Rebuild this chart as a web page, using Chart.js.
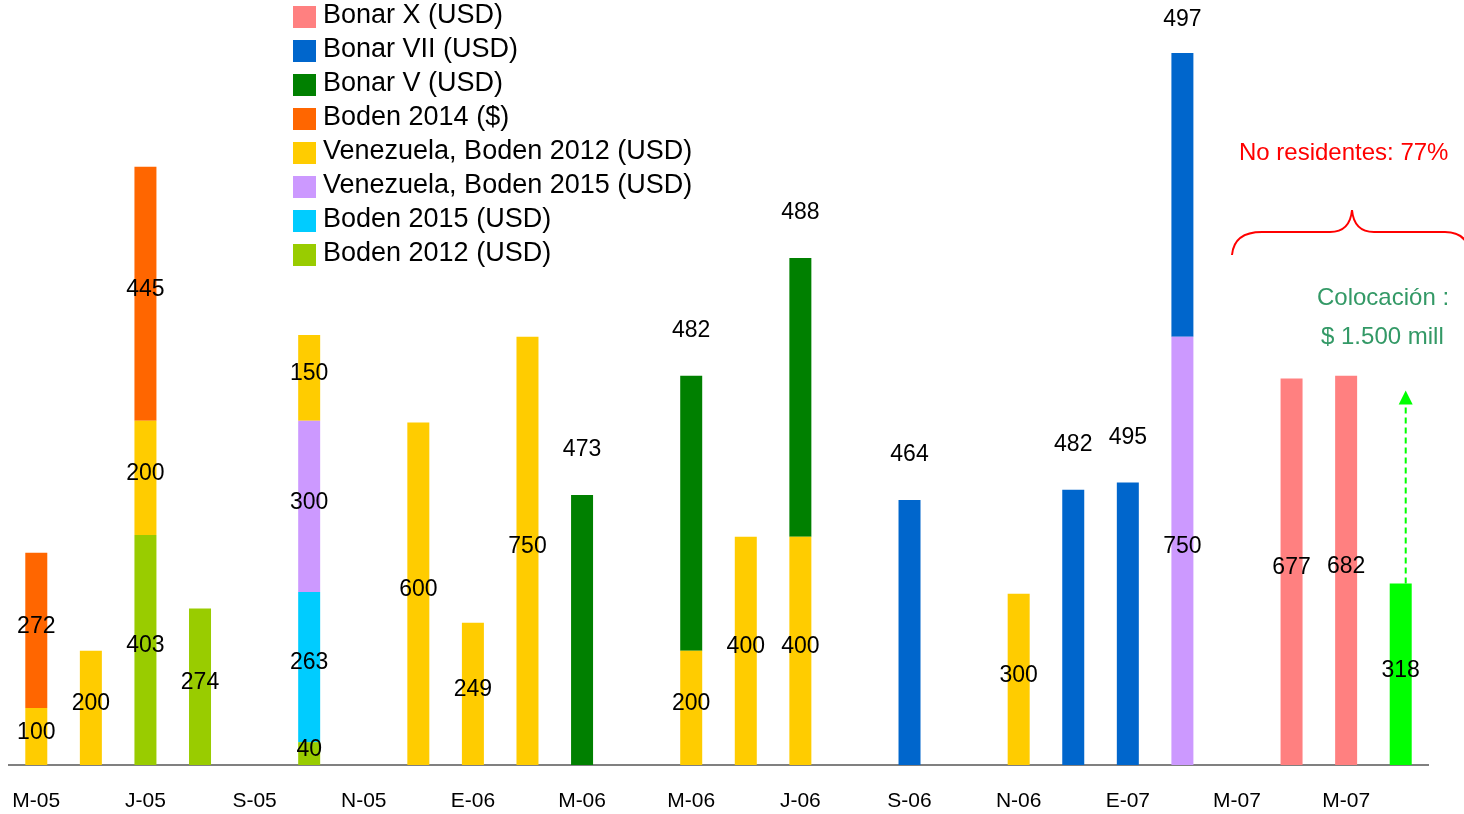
<!DOCTYPE html>
<html>
<head>
<meta charset="utf-8">
<script src="https://cdn.jsdelivr.net/npm/chart.js@4"></script>
<style>
  html, body { margin: 0; padding: 0; background: #fff; }
  #wrap { position: relative; width: 1464px; height: 814px; }
</style>
</head>
<body>
<div id="wrap"><canvas id="emisiones" width="1464" height="814"></canvas></div>
<script>
// ---- Data (one slot per month, May-05 .. Jun-07) ----
const meses = ['M-05','J-05','J-05','A-05','S-05','O-05','N-05','D-05',
               'E-06','F-06','M-06','A-06','M-06','J-06','J-06','A-06','S-06','O-06','N-06','D-06',
               'E-07','F-07','M-07','A-07','M-07','J-07'];

const boden2012     = [null,null,403,274,null,40,null,null,null,null,null,null,null,null,null,null,null,null,null,null,null,null,null,null,null,null];
const boden2015     = [null,null,null,null,null,263,null,null,null,null,null,null,null,null,null,null,null,null,null,null,null,null,null,null,null,null];
const venez2015     = [null,null,null,null,null,300,null,null,null,null,null,null,null,null,null,null,null,null,null,null,null,750,null,null,null,null];
const venez2012     = [100,200,200,null,null,150,null,600,249,750,null,null,200,400,400,null,null,null,300,null,null,null,null,null,null,null];
const boden2014     = [272,null,445,null,null,null,null,null,null,null,null,null,null,null,null,null,null,null,null,null,null,null,null,null,null,null];
const bonarV        = [null,null,null,null,null,null,null,null,null,null,473,null,482,null,488,null,null,null,null,null,null,null,null,null,null,null];
const bonarVII      = [null,null,null,null,null,null,null,null,null,null,null,null,null,null,null,null,464,null,null,482,495,497,null,null,null,null];
const bonarX        = [null,null,null,null,null,null,null,null,null,null,null,null,null,null,null,null,null,null,null,null,null,null,null,677,682,null];
const colocacion    = [null,null,null,null,null,null,null,null,null,null,null,null,null,null,null,null,null,null,null,null,null,null,null,null,null,318];

const FONT = '"Liberation Sans", Arial, sans-serif';

// bottom of the stack first
const series = [
  { label: 'Boden 2012 (USD)',            data: boden2012,  color: '#99CC00' },
  { label: 'Boden 2015 (USD)',            data: boden2015,  color: '#00CCFF' },
  { label: 'Venezuela, Boden 2015 (USD)', data: venez2015,  color: '#CC99FF' },
  { label: 'Venezuela, Boden 2012 (USD)', data: venez2012,  color: '#FFCC00' },
  { label: 'Boden 2014 ($)',              data: boden2014,  color: '#FF6600' },
  { label: 'Bonar V (USD)',               data: bonarV,     color: '#008000', top: true },
  { label: 'Bonar VII (USD)',             data: bonarVII,   color: '#0066CC', top: true },
  { label: 'Bonar X (USD)',               data: bonarX,     color: '#FF8080' },
  { label: 'Colocación',                  data: colocacion, color: '#00FF00', hideLegend: true }
];

// ---- value labels ----
const valueLabels = {
  id: 'valueLabels',
  afterDatasetsDraw(chart) {
    const ctx = chart.ctx;
    ctx.save();
    ctx.font = '23px ' + FONT;
    ctx.fillStyle = '#000';
    ctx.textAlign = 'center';
    ctx.textBaseline = 'middle';
    chart.data.datasets.forEach((ds, i) => {
      chart.getDatasetMeta(i).data.forEach((bar, j) => {
        const v = ds.data[j];
        if (v == null) return;
        const y = ds.labelTop ? Math.max(bar.y - 45, 20) : (bar.y + bar.base) / 2 - 4;
        ctx.fillText(String(v), bar.x, y);
      });
    });
    ctx.restore();
  }
};

// ---- legend (top-left, drawn on canvas) ----
const sideLegend = {
  id: 'sideLegend',
  afterDraw(chart) {
    const ctx = chart.ctx;
    ctx.save();
    ctx.font = '27px ' + FONT;
    ctx.textBaseline = 'middle';
    const items = chart.data.datasets.filter(d => !d.hideLegend).slice().reverse();
    items.forEach((d, k) => {
      const cy = 16 + k * 34;
      ctx.fillStyle = d.backgroundColor;
      ctx.fillRect(293, cy - 10, 23, 22);
      ctx.fillStyle = '#000';
      ctx.fillText(d.label, 323, cy);
    });
    ctx.restore();
  }
};

// ---- notes: brace, texts, arrow ----
const notas = {
  id: 'notas',
  afterDraw(chart) {
    const ctx = chart.ctx;
    ctx.save();
    // red brace
    ctx.strokeStyle = '#FF0000';
    ctx.lineWidth = 2;
    ctx.beginPath();
    ctx.moveTo(1232, 255);
    ctx.quadraticCurveTo(1234, 232, 1262, 232);
    ctx.lineTo(1330, 232);
    ctx.quadraticCurveTo(1350, 232, 1352, 210);
    ctx.quadraticCurveTo(1354, 232, 1374, 232);
    ctx.lineTo(1445, 232);
    ctx.quadraticCurveTo(1466, 232, 1470, 252);
    ctx.stroke();

    ctx.font = '24px ' + FONT;
    ctx.textBaseline = 'middle';
    ctx.fillStyle = '#FF0000';
    ctx.fillText('No residentes: 77%', 1239, 153);
    ctx.fillStyle = '#339966';
    ctx.fillText('Colocación :', 1317, 298);
    ctx.fillText('$ 1.500 mill', 1321, 337);

    // dashed arrow from top of the green bar
    const meta = chart.getDatasetMeta(chart.data.datasets.length - 1);
    const bar = meta.data[colocacion.length - 1];
    const x = bar.x + 5, y0 = bar.y, y1 = bar.y - 193;
    ctx.strokeStyle = '#00FF00';
    ctx.lineWidth = 2;
    ctx.setLineDash([6, 4]);
    ctx.beginPath();
    ctx.moveTo(x, y0);
    ctx.lineTo(x, y1 + 12);
    ctx.stroke();
    ctx.setLineDash([]);
    ctx.fillStyle = '#00FF00';
    ctx.beginPath();
    ctx.moveTo(x, y1);
    ctx.lineTo(x - 7, y1 + 14);
    ctx.lineTo(x + 7, y1 + 14);
    ctx.closePath();
    ctx.fill();
    ctx.restore();
  }
};

new Chart(document.getElementById('emisiones'), {
  type: 'bar',
  data: {
    labels: meses,
    datasets: series.map(s => ({
      label: s.label,
      data: s.data,
      backgroundColor: s.color,
      borderWidth: 0,
      barPercentage: 0.403,
      categoryPercentage: 1,
      labelTop: !!s.top,
      hideLegend: !!s.hideLegend
    }))
  },
  options: {
    responsive: false,
    animation: false,
    layout: { autoPadding: false, padding: { left: 9, right: 36, top: 0, bottom: 1 } },
    plugins: { legend: { display: false }, tooltip: { enabled: false } },
    scales: {
      x: {
        stacked: true,
        grid: { display: false, drawTicks: false },
        border: { color: '#808080', width: 2 },
        afterFit: axis => { axis.height = 48; axis.paddingLeft = 0; axis.paddingRight = 0; },
        ticks: {
          autoSkip: false, maxRotation: 0, padding: 24,
          color: '#000', font: { family: FONT, size: 21 },
          callback: (v, i) => i % 2 === 0 ? meses[i] : ''
        }
      },
      y: { stacked: true, display: false, min: 0, max: 1340 }
    }
  },
  plugins: [valueLabels, sideLegend, notas]
});
</script>
</body>
</html>
